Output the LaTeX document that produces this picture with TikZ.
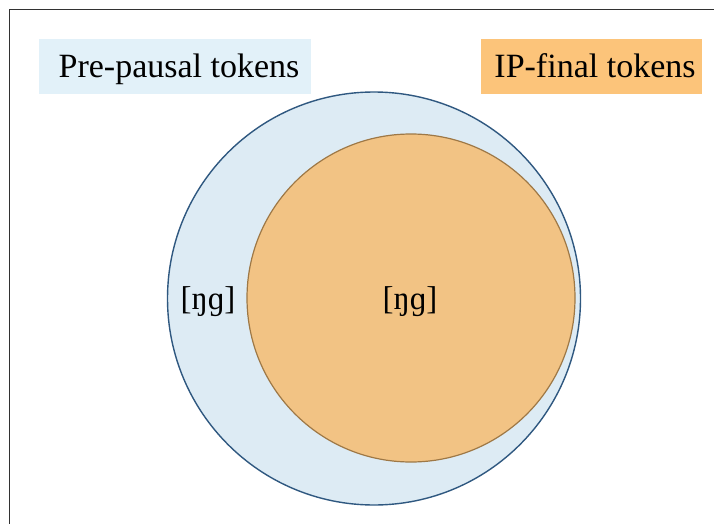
\documentclass[tikz,border=0pt]{standalone}
\usepackage{fontspec}
\setmainfont{Liberation Serif}
\definecolor{outerfill}{RGB}{221,235,244}
\definecolor{outerline}{RGB}{47,88,128}
\definecolor{innerfill}{RGB}{242,195,132}
\definecolor{innerline}{RGB}{158,120,70}
\definecolor{bluebox}{RGB}{226,241,249}
\definecolor{orangebox}{RGB}{252,196,122}
\definecolor{frameline}{RGB}{50,50,50}
\tikzset{
  labelbox/.style={inner sep=0pt, anchor=base, font=\fontsize{34}{40}\selectfont},
  ipa/.style={inner sep=0pt, anchor=base, font=\fontsize{33}{38}\selectfont}
}
\begin{document}
\begin{tikzpicture}[x=1pt,y=-1pt]
\useasboundingbox (0,0) rectangle (714,524);
\clip (0,0) rectangle (714,524);
\draw[frameline, line width=1.1pt] (9.5,540) -- (9.5,9.5) -- (730,9.5);
\fill[bluebox] (39,39) rectangle (311,94);
\fill[orangebox] (481,39) rectangle (702,94);
\node[labelbox] (pre) at (179,78) {Pre-pausal tokens};
\node[labelbox] (ip) at (595,78) {IP-final tokens};
\draw[outerline, fill=outerfill, line width=1.4pt] (374,298.5) circle (206.5);
\draw[innerline, fill=innerfill, line width=1.2pt] (411,298) circle (164);
\node[ipa] (ngl) at (208,309) {[ŋɡ]};
\node[ipa] (ngr) at (410,309) {[ŋɡ]};
\end{tikzpicture}
\end{document}
